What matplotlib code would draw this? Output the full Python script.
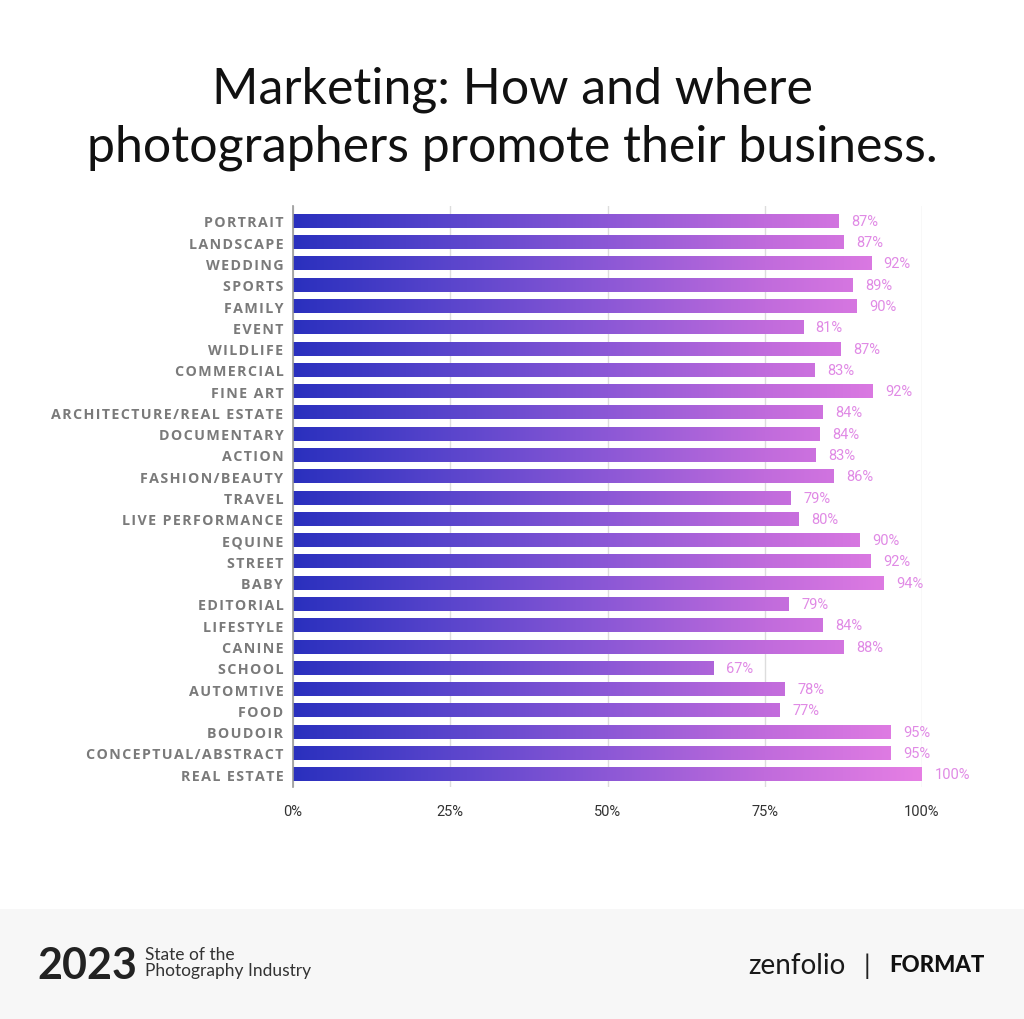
import numpy as np
import matplotlib
matplotlib.use("Agg")
import matplotlib.pyplot as plt
from matplotlib.colors import LinearSegmentedColormap
from matplotlib.patches import Rectangle

# ------------------------------------------------------------
#  Data
# ------------------------------------------------------------
categories = ["PORTRAIT", "LANDSCAPE", "WEDDING", "SPORTS", "FAMILY", "EVENT",
              "WILDLIFE", "COMMERCIAL", "FINE ART", "ARCHITECTURE/REAL ESTATE",
              "DOCUMENTARY", "ACTION", "FASHION/BEAUTY", "TRAVEL",
              "LIVE PERFORMANCE", "EQUINE", "STREET", "BABY", "EDITORIAL",
              "LIFESTYLE", "CANINE", "SCHOOL", "AUTOMTIVE", "FOOD", "BOUDOIR",
              "CONCEPTUAL/ABSTRACT", "REAL ESTATE"]
values = [86.8, 87.5, 91.9, 89.0, 89.6, 81.1, 87.1, 82.9, 92.1, 84.2,
          83.7, 83.1, 86.0, 79.1, 80.4, 90.1, 91.8, 93.9, 78.8, 84.2,
          87.5, 66.8, 78.2, 77.4, 95.0, 95.0, 100.0]
labels = ["87%", "87%", "92%", "89%", "90%", "81%", "87%", "83%", "92%", "84%",
          "84%", "83%", "86%", "79%", "80%", "90%", "92%", "94%", "79%", "84%",
          "88%", "67%", "78%", "77%", "95%", "95%", "100%"]
xticks = [0, 25, 50, 75, 100]
xtick_labels = ["0%", "25%", "50%", "75%", "100%"]

title = "Marketing: How and where\nphotographers promote their business."

W, H = 1024, 1020
fig = plt.figure(figsize=(W / 100, H / 100), dpi=100)
fig.patch.set_facecolor("white")

# ------------------------------------------------------------
#  Title
# ------------------------------------------------------------
fig.text(0.5, 1 - 119 / H, title, ha="center", va="center",
         fontsize=36, family="Lato", color="#111111", linespacing=1.3)

# ------------------------------------------------------------
#  Bar chart with a left->right gradient
# ------------------------------------------------------------
ax = fig.add_axes([293 / W, 1 - 788 / H, (922 - 293) / W, (788 - 207) / H])
cmap = LinearSegmentedColormap.from_list(
    "grad", ["#2a30be", "#5a45cc", "#8c58d6", "#c06bdc", "#e67fe4"])

y = np.arange(len(categories))
bar_h = 0.66
grad = np.linspace(0, 1, 512).reshape(1, -1)
for yi, v in zip(y, values):
    bar = Rectangle((0, yi - bar_h / 2), v, bar_h, facecolor="none",
                    edgecolor="none")
    ax.add_patch(bar)
    im = ax.imshow(grad, cmap=cmap, aspect="auto",
                   extent=(0, 100, yi + bar_h / 2, yi - bar_h / 2),
                   interpolation="bicubic", zorder=2)
    im.set_clip_path(bar)

for yi, v, lab in zip(y, values, labels):
    ax.text(v + 2.0, yi, lab, ha="left", va="center", fontsize=10.5,
            family="Roboto", color="#e08ae5", clip_on=False)

# letter-spaced category names (hair space between characters)
spaced = ["\u200a".join(c) for c in categories]

ax.set_xlim(0, 100)
ax.set_ylim(len(categories) - 1 + 0.6, -0.7)
ax.set_xticks(xticks)
ax.set_xticklabels(xtick_labels, family="Roboto", fontsize=10.5, color="#333333")
ax.set_yticks(y)
ax.set_yticklabels(spaced, family=["Open Sans", "DejaVu Sans"],
                   fontweight="bold", fontsize=10.3, color="#7a7a7a")
ax.tick_params(axis="both", length=0)
ax.tick_params(axis="x", pad=12)
ax.tick_params(axis="y", pad=7)
for s in ["top", "right", "bottom"]:
    ax.spines[s].set_visible(False)
ax.spines["left"].set_color("#999999")
ax.spines["left"].set_linewidth(1.2)
ax.grid(axis="x", color="#dddddd", linewidth=1, zorder=0)
ax.set_axisbelow(True)

# ------------------------------------------------------------
#  Footer band
# ------------------------------------------------------------
fig.add_artist(Rectangle((0, 0), 1, 1 - 910 / H, transform=fig.transFigure,
                         facecolor="#f7f7f7", edgecolor="none", zorder=0))
fig.text(37 / W, 1 - 966 / H, "2023", ha="left", va="center", fontsize=31,
         fontweight="bold", family="Lato", color="#222222")
fig.text(145 / W, 1 - 963 / H, "State of the\nPhotography Industry",
         ha="left", va="center", fontsize=12.5, family="Lato",
         color="#333333", linespacing=1.05)
fig.text(797 / W, 1 - 966 / H, "zenfolio", ha="center", va="center",
         fontsize=20, family="Lato", color="#1a1a1a")
fig.text(867 / W, 1 - 966 / H, "|", ha="center", va="center",
         fontsize=19, family="Lato", color="#222222")
fig.text(937 / W, 1 - 966 / H, "FORMAT", ha="center", va="center",
         fontsize=16, family="Lato", fontweight="black", color="#111111")

fig.savefig("out.png", dpi=100, facecolor=fig.get_facecolor())
